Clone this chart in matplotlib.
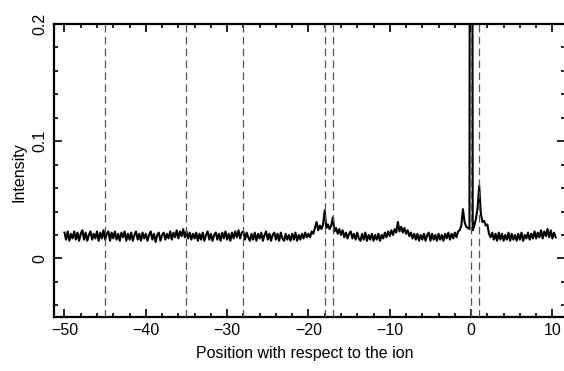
import numpy as np
import matplotlib
matplotlib.use("Agg")
import matplotlib.pyplot as plt
from matplotlib.ticker import MultipleLocator, FixedLocator, FixedFormatter

# sampled profile, step 0.2 starting at -50
x_start = -50.0
x_step = 0.2
intensity = [
    0.022, 0.016, 0.023, 0.015, 0.021, 0.017, 0.023, 0.016, 0.022, 0.015,
    0.021, 0.024, 0.016, 0.022, 0.015, 0.020, 0.023, 0.016, 0.021, 0.017,
    0.023, 0.015, 0.022, 0.017, 0.024, 0.016, 0.021, 0.023, 0.015, 0.022,
    0.017, 0.023, 0.016, 0.021, 0.015, 0.022, 0.018, 0.023, 0.015, 0.021,
    0.016, 0.022, 0.015, 0.020, 0.023, 0.016, 0.021, 0.015, 0.022, 0.017,
    0.021, 0.015, 0.020, 0.023, 0.016, 0.021, 0.014, 0.020, 0.022, 0.015,
    0.020, 0.022, 0.016, 0.021, 0.017, 0.023, 0.016, 0.022, 0.018, 0.024,
    0.017, 0.023, 0.019, 0.025, 0.018, 0.023, 0.017, 0.022, 0.016, 0.021,
    0.017, 0.022, 0.015, 0.021, 0.016, 0.022, 0.015, 0.020, 0.023, 0.016,
    0.021, 0.015, 0.020, 0.022, 0.016, 0.021, 0.015, 0.022, 0.017, 0.023,
    0.016, 0.021, 0.015, 0.022, 0.017, 0.023, 0.018, 0.024, 0.017, 0.022,
    0.023, 0.016, 0.022, 0.018, 0.015, 0.021, 0.016, 0.022, 0.015, 0.021,
    0.017, 0.022, 0.015, 0.020, 0.023, 0.016, 0.021, 0.015, 0.020, 0.022,
    0.016, 0.021, 0.015, 0.022, 0.017, 0.015, 0.021, 0.016, 0.020, 0.015,
    0.021, 0.016, 0.022, 0.015, 0.020, 0.016, 0.021, 0.017, 0.022, 0.018,
    0.021, 0.018, 0.023, 0.021, 0.026, 0.031, 0.024, 0.028, 0.025, 0.029,
    0.041, 0.026, 0.029, 0.025, 0.028, 0.035, 0.023, 0.026, 0.021, 0.025,
    0.020, 0.024, 0.018, 0.022, 0.017, 0.021, 0.023, 0.017, 0.021, 0.016,
    0.022, 0.017, 0.015, 0.021, 0.016, 0.022, 0.015, 0.020, 0.016, 0.021,
    0.015, 0.020, 0.016, 0.021, 0.015, 0.020, 0.017, 0.022, 0.018, 0.023,
    0.019, 0.024, 0.020, 0.025, 0.022, 0.031, 0.023, 0.027, 0.022, 0.026,
    0.021, 0.024, 0.019, 0.022, 0.017, 0.021, 0.016, 0.021, 0.015, 0.020,
    0.016, 0.021, 0.015, 0.020, 0.022, 0.015, 0.021, 0.016, 0.020, 0.015,
    0.021, 0.016, 0.020, 0.015, 0.021, 0.017, 0.022, 0.016, 0.021, 0.017,
    0.022, 0.018, 0.023, 0.024, 0.028, 0.042, 0.031, 0.027, 0.026, 0.025,
    1.500, 0.024, 0.028, 0.034, 0.043, 0.062, 0.038, 0.031, 0.032, 0.028,
    0.029, 0.021, 0.018, 0.022, 0.016, 0.021, 0.015, 0.022, 0.016, 0.021,
    0.015, 0.020, 0.016, 0.022, 0.015, 0.021, 0.016, 0.020, 0.015, 0.021,
    0.016, 0.022, 0.015, 0.020, 0.017, 0.022, 0.016, 0.021, 0.017, 0.023,
    0.017, 0.022, 0.018, 0.024, 0.017, 0.023, 0.019, 0.025, 0.018, 0.024,
    0.017, 0.022, 0.018,
]
position = x_start + x_step * np.arange(len(intensity))

# marked positions (dashed)
marks = [-45, -35, -28, -18, -17, 0, 1]

ytick_vals = [0, 0.1, 0.2]
ytick_labels = ["0", "0.1", "0.2"]

plt.rcParams["font.family"] = ["Liberation Sans", "DejaVu Sans"]

fig = plt.figure(figsize=(5.64, 3.71), dpi=100)
ax = fig.add_axes([0.0963, 0.1456, 0.9055, 0.7897])

ax.plot(position, intensity, color="black", lw=1.5, zorder=2)

for m in marks:
    ax.axvline(m, color="#555555", lw=0.9, linestyle=(0, (6, 3.5)), zorder=3)

ax.set_xlim(-51.25, 11.55)
ax.set_ylim(-0.05, 0.2)

ax.xaxis.set_major_locator(MultipleLocator(10))
ax.xaxis.set_minor_locator(MultipleLocator(2))
ax.yaxis.set_major_locator(FixedLocator(ytick_vals))
ax.yaxis.set_major_formatter(FixedFormatter(ytick_labels))
ax.yaxis.set_minor_locator(MultipleLocator(0.02))

ax.tick_params(which="both", direction="in", top=True, right=True,
               width=1.2, labelsize=11.5)
ax.tick_params(which="major", length=5.5)
ax.tick_params(which="minor", length=3)
ax.tick_params(axis="x", pad=4)
ax.tick_params(axis="y", pad=5)
for lab in ax.get_yticklabels():
    lab.set_rotation(90)
    lab.set_va("center")

for s in ax.spines.values():
    s.set_linewidth(1.6)

ax.set_xlabel("Position with respect to the ion", fontsize=11.5)
ax.set_ylabel("Intensity", fontsize=11.5)
ax.xaxis.set_label_coords((304.5 - 54.3) / 510.7, -(346 - 317) / 293)
ax.yaxis.set_label_coords(-(54.3 - 26) / 510.7, (317 - 172) / 293)

fig.savefig("out.png", dpi=100)
